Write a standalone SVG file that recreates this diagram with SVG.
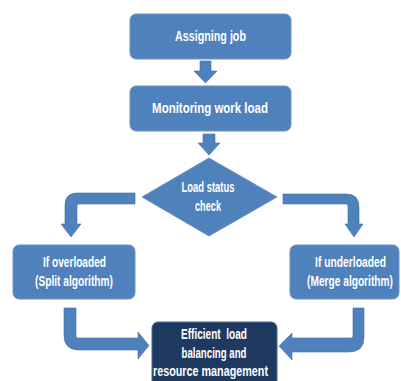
<svg xmlns="http://www.w3.org/2000/svg" width="401" height="381" viewBox="0 0 401 381">
<style>
.box{fill:#4F81BD;stroke:#6F94C4;stroke-width:1}
.dark{fill:#1F3A60;stroke:#4A6A92;stroke-width:1}
.arr{fill:#4F81BD;stroke:#3E6EA8;stroke-width:0.6}
text{font-family:"Liberation Sans",Arial,sans-serif;font-weight:bold;font-size:14px;fill:#FFFFFF;text-anchor:middle}
</style>
<rect width="401" height="381" fill="#FFFFFF"/>
<g id="connectors">
<path class="arr" d="M200,61 L211,61 L211,71 L217,71 L205.5,83 L194,71 L200,71 Z"/>
<path class="arr" d="M203,134 L215,134 L215,143 L220,143 L209,155 L198,143 L203,143 Z"/>
<path class="arr" d="M135,193 L77,193 Q65,193 65,205 L65,224 L61,224 L71,237 L81,224 L77,224 L77,206 Q77,204 79,204 L135,204 Z"/>
<path class="arr" d="M283,194 L346,194 Q359,194 359,207 L359,224 L363,224 L354,237 L345,224 L348,224 L348,206 Q348,204 346,204 L283,204 Z"/>
<path class="arr" d="M64,308 L76,308 L76,336 Q76,338 78,338 L138,338 L138,332 L149,345.5 L138,359 L138,350 L79,350 Q64,350 64,335 Z"/>
<path class="arr" d="M353,308 L364,308 L364,337 Q364,352 349,352 L292,352 L292,360 L279,346 L292,333 L292,338 L351,338 Q353,338 353,336 Z"/>
</g>
<g id="assign">
<rect class="box" x="130" y="14" width="161" height="45" rx="6"/>
<text transform="translate(210.5,41) scale(0.767,1)">Assigning job</text>
</g>
<g id="monitor">
<rect class="box" x="130" y="86" width="161" height="45" rx="6"/>
<text transform="translate(210,113) scale(0.819,1)">Monitoring work load</text>
</g>
<g id="check">
<polygon class="box" points="209,158 277,197 209,236 142,197"/>
<text transform="translate(208,192) scale(0.674,1)">Load status</text>
<text transform="translate(208,211) scale(0.655,1)">check</text>
</g>
<g id="over">
<rect class="box" x="13" y="245" width="122" height="54" rx="6"/>
<text transform="translate(74.5,267) scale(0.723,1)">If overloaded</text>
<text transform="translate(74,286) scale(0.727,1)">(Split algorithm)</text>
</g>
<g id="under">
<rect class="box" x="290" y="245" width="109" height="54" rx="6"/>
<text transform="translate(350.5,267) scale(0.736,1)">If underloaded</text>
<text transform="translate(350,286) scale(0.727,1)">(Merge algorithm)</text>
</g>
<g id="efficient">
<rect class="dark" x="152" y="322" width="125" height="70" rx="6"/>
<text transform="translate(214,339) scale(0.719,1)" xml:space="preserve">Efficient  load</text>
<text transform="translate(214,358) scale(0.69,1)">balancing and</text>
<text transform="translate(210.5,376) scale(0.77,1)">resource management</text>
</g>
</svg>
